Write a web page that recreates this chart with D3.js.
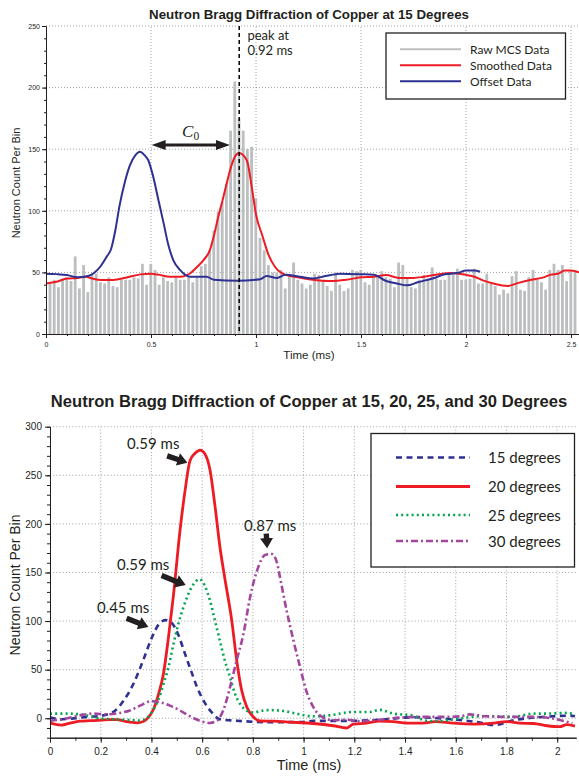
<!DOCTYPE html>
<html>
<head>
<meta charset="utf-8">
<script src="https://cdn.jsdelivr.net/npm/d3@7/dist/d3.min.js"></script>
<style>
  body { margin: 0; background: #fff; }
  text { fill: #231f20; }
</style>
</head>
<body>
<script>
// ---- top chart: raw MCS histogram (bins of 0.02 ms) ----
var binStart = 0.009;
var binWidth = 0.02;
var rawCounts = [41,44,38,44,46,43,63,37,56,34,48,49,42,41,46,39,38,44,44,44,46,45,57,40,57,52,40,46,43,42,
  46,44,44,46,42,46,55,57,68,84,99,107,122,165,205,175,165,150,152,110,78,68,56,50,50,52,37,48,58,
  44,41,37,40,49,48,44,39,35,50,40,35,37,52,51,52,42,40,46,48,51,
  46,45,38,58,56,45,38,37,44,48,45,54,45,44,44,48,48,53,44,44,45,53,41,41,49,41,39,32,36,33,
  47,51,36,35,46,52,44,42,36,52,57,52,56,43,52,52];

var smoothedData = [[0,41],[0.05,42.4],[0.1,45],[0.15,45.5],[0.19,46.5],[0.22,45],[0.26,43.8],[0.32,43.8],
  [0.38,45.7],[0.45,48.4],[0.5,49],[0.54,48],[0.59,46.5],[0.64,46.5],[0.69,49.7],[0.72,54.6],[0.75,60],
  [0.78,68],[0.8,80],[0.82,95],[0.84,108],[0.86,122],[0.88,135],[0.9,144],[0.92,147],[0.94,145],[0.96,139],
  [0.98,119],[1.0,97],[1.03,80],[1.06,64],[1.09,54.6],[1.14,48],[1.2,46],[1.27,44],[1.35,43],[1.43,44],
  [1.5,46],[1.56,46.5],[1.62,47.8],[1.68,45.5],[1.75,45.5],[1.8,46.5],[1.87,48.5],[1.93,49.5],[2.0,48],
  [2.04,46.5],[2.08,43.5],[2.13,41],[2.2,39],[2.25,41.5],[2.31,44],[2.37,46],[2.4,48],[2.44,49],[2.47,51.5],
  [2.5,51.5],[2.538,50]];

var offsetData = [[0,49],[0.05,48.6],[0.1,47.8],[0.15,46],[0.2,47],[0.23,49.7],[0.26,55],[0.29,63],[0.31,69],
  [0.33,84],[0.35,104],[0.375,123],[0.4,137],[0.425,145],[0.448,148],[0.47,145],[0.487,141],[0.51,128],
  [0.535,109],[0.56,90],[0.583,72],[0.606,60],[0.638,52],[0.686,46.5],[0.765,46.5],[0.8,44],[0.91,43.3],
  [1.02,44.5],[1.05,47],[1.1,45.5],[1.14,48],[1.21,46.5],[1.27,45],[1.33,47],[1.4,49],[1.5,48.5],[1.56,48],
  [1.62,43],[1.67,41],[1.72,39.5],[1.77,42],[1.84,45],[1.9,48.5],[1.96,49.5],[2.0,51.5],[2.04,51.5],[2.067,50.5]];

var topLegend = ['Raw MCS Data', 'Smoothed Data', 'Offset Data'];
var topXTicks = [0, 0.5, 1, 1.5, 2, 2.5];
var topYTicks = [0, 50, 100, 150, 200, 250];
var peakTime = 0.92;

// ---- bottom chart: smoothed peaks at four angles ----
var deg15 = [[0,1],[0.04,-1],[0.1,0],[0.15,1.5],[0.2,2.5],[0.25,6.5],[0.29,18],[0.33,36],[0.368,60],[0.4,82],
  [0.43,97],[0.455,101],[0.48,98],[0.506,86],[0.53,68],[0.556,49],[0.58,32],[0.61,16],[0.638,6],[0.67,-1],
  [0.735,-2.5],[0.86,-4],[0.99,-4],[1.04,-2.7],[1.17,-2.7],[1.3,-1.6],[1.43,1],[1.56,-0.5],[1.695,-4.4],
  [1.75,-7],[1.83,-2],[1.96,1.7],[2.05,2.7],[2.07,2]];
var deg20 = [[0,-5],[0.046,-7],[0.079,-5],[0.118,-3],[0.158,-2.5],[0.2,-2],[0.236,-1.3],[0.263,-1.3],[0.3,-3.4],
  [0.342,-4.7],[0.368,-3.4],[0.388,0.8],[0.408,9.3],[0.428,24.8],[0.447,45.3],[0.467,83],[0.487,127],[0.513,194],
  [0.533,235],[0.552,265],[0.572,272.6],[0.592,276],[0.611,272],[0.631,255.5],[0.651,217.7],[0.67,176.5],
  [0.69,143],[0.717,100],[0.736,60],[0.756,28.5],[0.776,11.6],[0.802,1.3],[0.828,-2.8],[0.88,-3],[0.95,-4],
  [1.038,-5.4],[1.117,-7.7],[1.17,-10],[1.196,-6],[1.249,-5],[1.3,-3],[1.354,-3.5],[1.41,-5],[1.47,-5],
  [1.52,-3.4],[1.59,-5],[1.67,-6],[1.75,-5],[1.8,-3.4],[1.853,-5],[1.906,-5.4],[1.96,-7.7],[2.01,-8.7],
  [2.038,-6.5],[2.07,-8]];
var deg25 = [[0,4.8],[0.07,4.8],[0.118,4],[0.16,2],[0.2,-0.3],[0.25,-1],[0.3,-1.6],[0.355,-2.3],[0.38,0],
  [0.408,9],[0.428,19.5],[0.447,35],[0.467,52.5],[0.487,76.5],[0.506,97],[0.526,114],[0.546,128],[0.566,138],
  [0.59,143],[0.611,136],[0.631,121],[0.651,100],[0.67,79.7],[0.69,59],[0.71,42],[0.73,24.8],[0.75,14.6],
  [0.776,7.7],[0.8,6],[0.854,8.4],[0.907,8],[0.97,4.8],[1.038,2],[1.1,3],[1.196,6.5],[1.26,6.5],[1.3,8.6],
  [1.354,4.8],[1.43,3],[1.48,-2.4],[1.53,-3],[1.61,-0.3],[1.695,2],[1.75,2],[1.827,1.4],[1.906,4.8],
  [1.96,4.8],[2.038,5.5],[2.07,4]];
var deg30 = [[0,-2.7],[0.05,-1],[0.118,3],[0.17,4.8],[0.223,4],[0.276,5.5],[0.315,8],[0.355,13],[0.4,17.5],
  [0.434,16.5],[0.473,13],[0.513,8],[0.552,2],[0.592,-2.7],[0.631,-4.8],[0.657,-2.7],[0.683,8],[0.71,32],
  [0.736,59.5],[0.763,87],[0.789,124.6],[0.822,156],[0.848,168],[0.875,169],[0.895,160],[0.907,145],
  [0.933,111],[0.96,80],[0.986,52.8],[1.01,28.8],[1.038,11.6],[1.064,3],[1.117,-2],[1.17,-1.5],[1.22,-3],
  [1.3,-1.5],[1.38,0.8],[1.459,1.4],[1.538,1.4],[1.617,2],[1.656,4],[1.72,2],[1.827,1.4],[1.906,1.4],
  [1.985,-0.3],[2.025,-2.7],[2.06,-5]];

var angleNames = ['15 degrees', '20 degrees', '25 degrees', '30 degrees'];
var bottomXTicks = [0, 0.2, 0.4, 0.6, 0.8, 1, 1.2, 1.4, 1.6, 1.8, 2];
var bottomYTicks = [0, 50, 100, 150, 200, 250, 300];

// peak call-outs: label, text anchor (t, v), arrow tail and tip (t, v)
var peakNotes = [
  { label: '0.59 ms', text: [0.304, 277.5], from: [0.462, 270], to: [0.542, 263] },
  { label: '0.59 ms', text: [0.264, 152.5], from: [0.44, 147], to: [0.535, 137] },
  { label: '0.45 ms', text: [0.185, 108.5], from: [0.302, 103], to: [0.388, 94] },
  { label: '0.87 ms', text: [0.765, 193], from: [0.853, 190], to: [0.856, 175] }
];

var sans = '"Liberation Sans", Arial, sans-serif';
var myriad = 'Lato, "Open Sans", sans-serif';
var colors = { gray: '#bcbec0', red: '#ed1c24', navy: '#2e3192', green: '#00a651', purple: '#a3479e' };

var svg = d3.select('body').append('svg').attr('width', 579).attr('height', 777);

// ================= top chart =================
var x1 = d3.scaleLinear().domain([0, 2.538]).range([46, 579]);
var y1 = d3.scaleLinear().domain([0, 250]).range([334, 26]);
var topG = svg.append('g');

topG.selectAll('.hgrid').data(topYTicks.slice(1)).enter().append('line')
  .attr('x1', x1(0)).attr('x2', x1(2.538)).attr('y1', d => y1(d)).attr('y2', d => y1(d))
  .attr('stroke', '#8a8a8a').attr('stroke-width', 0.8).attr('stroke-dasharray', '1,2');
topG.selectAll('.vgrid').data(topXTicks.slice(1)).enter().append('line')
  .attr('x1', d => x1(d)).attr('x2', d => x1(d)).attr('y1', y1(0)).attr('y2', y1(250))
  .attr('stroke', '#8a8a8a').attr('stroke-width', 0.8).attr('stroke-dasharray', '1,2');

var barW = x1(binWidth) - x1(0) - 1.4;
topG.selectAll('.bar').data(rawCounts).enter().append('rect')
  .attr('x', (d, i) => x1(binStart + i * binWidth) + 0.7)
  .attr('width', barW)
  .attr('y', d => y1(d))
  .attr('height', d => y1(0) - y1(d))
  .attr('fill', colors.gray);

var line1 = d3.line().x(d => x1(d[0])).y(d => y1(d[1])).curve(d3.curveMonotoneX);
topG.append('path').datum(smoothedData).attr('d', line1)
  .attr('fill', 'none').attr('stroke', colors.red).attr('stroke-width', 2);
topG.append('path').datum(offsetData).attr('d', line1)
  .attr('fill', 'none').attr('stroke', colors.navy).attr('stroke-width', 2);

topG.append('line')
  .attr('x1', x1(peakTime)).attr('x2', x1(peakTime)).attr('y1', y1(250)).attr('y2', y1(0))
  .attr('stroke', '#000').attr('stroke-width', 1.5).attr('stroke-dasharray', '4,3');

// axes
function styleAxis(g, size) {
  g.selectAll('path.domain').attr('stroke', '#231f20');
  g.selectAll('line').attr('stroke', '#231f20');
  g.selectAll('text').attr('font-family', sans).attr('font-size', size).attr('fill', '#231f20');
}
topG.append('g').attr('transform', 'translate(' + x1(0) + ',0)')
  .call(d3.axisLeft(y1).tickValues(d3.range(0, 251, 10)).tickSize(2).tickSizeOuter(0).tickFormat(''))
  .call(g => styleAxis(g, 7));
topG.append('g').attr('transform', 'translate(' + x1(0) + ',0)')
  .call(d3.axisLeft(y1).tickValues(topYTicks).tickSize(4).tickPadding(2).tickSizeOuter(0))
  .call(g => styleAxis(g, 7));
topG.append('g').attr('transform', 'translate(0,' + y1(0) + ')')
  .call(d3.axisBottom(x1).tickValues(d3.range(0, 26).map(k => k / 10)).tickSize(2).tickSizeOuter(0).tickFormat(''))
  .call(g => styleAxis(g, 7));
topG.append('g').attr('transform', 'translate(0,' + y1(0) + ')')
  .call(d3.axisBottom(x1).tickValues(topXTicks).tickSize(4).tickPadding(4).tickSizeOuter(0).tickFormat(d3.format('~g')))
  .call(g => styleAxis(g, 7));

topG.append('text').attr('x', 309).attr('y', 19).attr('text-anchor', 'middle')
  .attr('font-family', sans).attr('font-weight', 'bold').attr('font-size', 13.3)
  .text('Neutron Bragg Diffraction of Copper at 15 Degrees');
topG.append('text').attr('x', 309).attr('y', 359).attr('text-anchor', 'middle')
  .attr('font-family', sans).attr('font-size', 11.5).text('Time (ms)');
topG.append('text').attr('transform', 'translate(20,183) rotate(-90)').attr('text-anchor', 'middle')
  .attr('font-family', sans).attr('font-size', 11).text('Neutron Count Per Bin');

topG.append('text').attr('x', x1(0.959)).attr('y', y1(238.6))
  .attr('font-family', myriad).attr('font-size', 13).text('peak at');
topG.append('text').attr('x', x1(0.959)).attr('y', y1(226.5))
  .attr('font-family', myriad).attr('font-size', 13).text('0.92 ms');

// C0 double arrow
var ax0 = x1(0.503), ax1 = x1(0.876), ay = y1(153.4);
topG.append('line').attr('x1', ax0 + 10).attr('x2', ax1 - 10).attr('y1', ay).attr('y2', ay)
  .attr('stroke', '#231f20').attr('stroke-width', 3.2);
topG.append('path').attr('fill', '#231f20')
  .attr('d', 'M' + ax0 + ',' + ay + 'l14,-5l0,10z M' + ax1 + ',' + ay + 'l-14,-5l0,10z');
var c0 = topG.append('text').attr('x', x1(0.648)).attr('y', y1(160))
  .attr('font-family', '"Liberation Serif", "DejaVu Serif", serif').attr('font-size', 17);
c0.append('tspan').attr('font-style', 'italic').text('C');
c0.append('tspan').attr('font-size', 11.5).attr('dy', 3).text('0');

// top legend
var lg1 = topG.append('g').attr('transform', 'translate(386,33)');
lg1.append('rect').attr('width', 179.5).attr('height', 66).attr('fill', '#fff')
  .attr('stroke', '#231f20').attr('stroke-width', 1.3);
var topLegColors = [colors.gray, colors.red, colors.navy];
lg1.selectAll('.ll').data(topLegend).enter().append('line')
  .attr('x1', 14).attr('x2', 75).attr('y1', (d, i) => 16.3 + i * 16).attr('y2', (d, i) => 16.3 + i * 16)
  .attr('stroke', (d, i) => topLegColors[i]).attr('stroke-width', 2);
lg1.selectAll('.lt').data(topLegend).enter().append('text')
  .attr('x', 84).attr('y', (d, i) => 20.5 + i * 16)
  .attr('font-family', myriad).attr('font-size', 12).text(d => d);

// ================= bottom chart =================
var x2 = d3.scaleLinear().domain([0, 2.075]).range([50, 576.2]);
var y2 = d3.scaleLinear().domain([-20, 300]).range([737.7, 426.7]);
var bot = svg.append('g');

bot.selectAll('.hgrid').data(bottomYTicks).enter().append('line')
  .attr('x1', x2(0)).attr('x2', x2(2.075)).attr('y1', d => y2(d)).attr('y2', d => y2(d))
  .attr('stroke', '#8a8a8a').attr('stroke-width', 0.8).attr('stroke-dasharray', '1,2.2');
bot.selectAll('.vgrid').data(bottomXTicks.slice(1)).enter().append('line')
  .attr('x1', d => x2(d)).attr('x2', d => x2(d)).attr('y1', y2(-20)).attr('y2', y2(300))
  .attr('stroke', '#8a8a8a').attr('stroke-width', 0.8).attr('stroke-dasharray', '1,2.2');

var line2 = d3.line().x(d => x2(d[0])).y(d => y2(d[1])).curve(d3.curveMonotoneX);
var series = [
  { data: deg15, color: colors.navy, dash: '6,4.5', width: 2.6 },
  { data: deg20, color: colors.red, dash: null, width: 2.8 },
  { data: deg25, color: colors.green, dash: '2,3.2', width: 2.6 },
  { data: deg30, color: colors.purple, dash: '7,3,2,3', width: 2.6 }
];
bot.selectAll('.curve').data(series).enter().append('path')
  .attr('d', d => line2(d.data))
  .attr('fill', 'none').attr('stroke', d => d.color).attr('stroke-width', d => d.width)
  .attr('stroke-dasharray', d => d.dash);

bot.append('g').attr('transform', 'translate(' + x2(0) + ',0)')
  .call(d3.axisLeft(y2).tickValues(d3.range(-20, 301, 10)).tickSize(3).tickSizeOuter(0).tickFormat(''))
  .call(g => styleAxis(g, 10));
bot.append('g').attr('transform', 'translate(' + x2(0) + ',0)')
  .call(d3.axisLeft(y2).tickValues(bottomYTicks).tickSize(5).tickPadding(3).tickSizeOuter(0))
  .call(g => styleAxis(g, 10));
bot.append('g').attr('transform', 'translate(0,' + y2(-20) + ')')
  .call(d3.axisBottom(x2).tickValues(d3.range(0, 21).map(k => k / 10)).tickSize(3).tickSizeOuter(0).tickFormat(''))
  .call(g => styleAxis(g, 10));
bot.append('g').attr('transform', 'translate(0,' + y2(-20) + ')')
  .call(d3.axisBottom(x2).tickValues(bottomXTicks).tickSize(5).tickPadding(5).tickSizeOuter(0).tickFormat(d3.format('~g')))
  .call(g => styleAxis(g, 10));

bot.append('text').attr('x', 309).attr('y', 406.5).attr('text-anchor', 'middle')
  .attr('font-family', sans).attr('font-weight', 'bold').attr('font-size', 16.6)
  .text('Neutron Bragg Diffraction of Copper at 15, 20, 25, and 30 Degrees');
bot.append('text').attr('x', 309).attr('y', 770).attr('text-anchor', 'middle')
  .attr('font-family', sans).attr('font-size', 14.5).text('Time (ms)');
bot.append('text').attr('transform', 'translate(20,585) rotate(-90)').attr('text-anchor', 'middle')
  .attr('font-family', sans).attr('font-size', 14).text('Neutron Count Per Bin');

// peak arrows
function blockArrow(x0, y0, x1_, y1_) {
  var dx = x1_ - x0, dy = y1_ - y0, len = Math.sqrt(dx * dx + dy * dy);
  var ux = dx / len, uy = dy / len, nx = -uy, ny = ux;
  var hl = 10, hw = 6.5, sw = 2.7;
  var bx = x1_ - ux * hl, by = y1_ - uy * hl;
  var pts = [
    [x0 + nx * sw, y0 + ny * sw], [bx + nx * sw, by + ny * sw], [bx + nx * hw, by + ny * hw],
    [x1_, y1_], [bx - nx * hw, by - ny * hw], [bx - nx * sw, by - ny * sw], [x0 - nx * sw, y0 - ny * sw]
  ];
  return 'M' + pts.map(p => p[0].toFixed(1) + ',' + p[1].toFixed(1)).join('L') + 'Z';
}
bot.selectAll('.note').data(peakNotes).enter().append('text')
  .attr('x', d => x2(d.text[0])).attr('y', d => y2(d.text[1]))
  .attr('font-family', myriad).attr('font-size', 15).text(d => d.label);
bot.selectAll('.arrow').data(peakNotes).enter().append('path')
  .attr('d', d => blockArrow(x2(d.from[0]), y2(d.from[1]), x2(d.to[0]), y2(d.to[1])))
  .attr('fill', '#231f20');

// bottom legend
var lg2 = bot.append('g').attr('transform', 'translate(371,433.5)');
lg2.append('rect').attr('width', 203.5).attr('height', 133.5).attr('fill', '#fff')
  .attr('stroke', '#231f20').attr('stroke-width', 1.3);
var legY = [24, 53, 81.5, 107.5];
lg2.selectAll('.ll').data(series).enter().append('line')
  .attr('x1', 25).attr('x2', 99).attr('y1', (d, i) => legY[i]).attr('y2', (d, i) => legY[i])
  .attr('stroke', d => d.color).attr('stroke-width', d => d.width)
  .attr('stroke-dasharray', d => d.dash);
lg2.selectAll('.lt').data(angleNames).enter().append('text')
  .attr('x', 117).attr('y', (d, i) => legY[i] + 5.5)
  .attr('font-family', myriad).attr('font-size', 15).text(d => d);
</script>
</body>
</html>
